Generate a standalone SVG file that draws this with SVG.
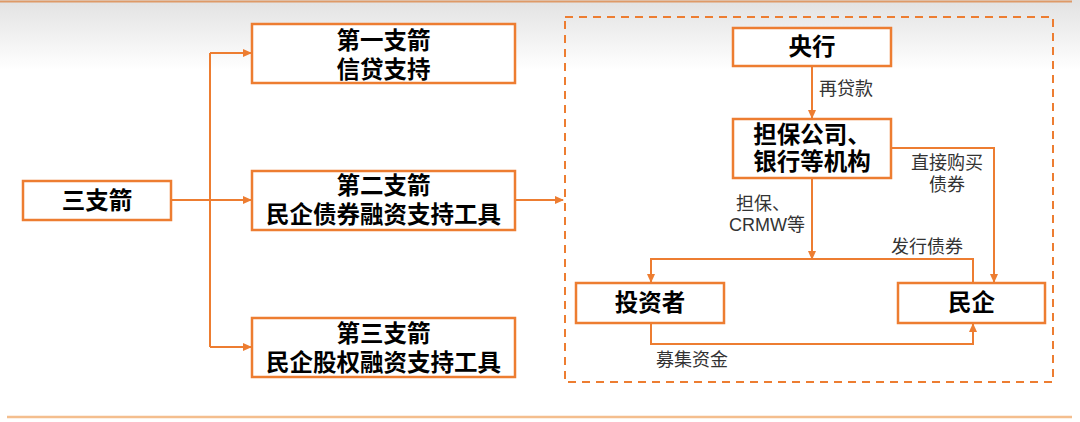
<svg xmlns="http://www.w3.org/2000/svg" width="1080" height="422" viewBox="0 0 1080 422">
<defs>
<linearGradient id="bg" x1="0" y1="0" x2="0" y2="1">
<stop offset="0" stop-color="#e2e2e2"/>
<stop offset="1" stop-color="#ffffff"/>
</linearGradient>
<marker id="ah" markerWidth="9" markerHeight="8" refX="8" refY="4" orient="auto" markerUnits="userSpaceOnUse">
<path d="M0,0 L9,4 L0,8 Z" fill="#ED7D31"/>
</marker>
<style>
.box{fill:#ffffff;stroke:#ED7D31;stroke-width:2.5}
.t{font-family:"Liberation Sans","Noto Sans CJK SC",sans-serif;font-size:23.5px;font-weight:bold;fill:#000;text-anchor:middle}
.l{font-family:"Liberation Sans","Noto Sans CJK SC",sans-serif;font-size:18px;fill:#333;text-anchor:middle}
.c{fill:none;stroke:#ED7D31;stroke-width:2}
.ca{fill:none;stroke:#ED7D31;stroke-width:2;marker-end:url(#ah)}
</style>
</defs>
<rect x="0" y="0" width="1080" height="422" fill="#ffffff"/>
<rect x="0" y="0" width="1080" height="70" fill="url(#bg)"/>
<line x1="0" y1="1.5" x2="1072" y2="1.5" stroke="#DE9A68" stroke-width="2"/>
<line x1="7" y1="417" x2="1072" y2="417" stroke="#F4BE8E" stroke-width="2.5"/>
<rect x="565" y="17" width="488" height="365" fill="none" stroke="#ED7D31" stroke-width="2" stroke-dasharray="8,6"/>
<g id="connectors">
<path class="c" d="M171,200 H210"/>
<path class="c" d="M210,53 V347"/>
<path class="ca" d="M210,53 H251"/>
<path class="ca" d="M210,200 H251"/>
<path class="ca" d="M210,347 H251"/>
<path class="ca" d="M515,200 H563"/>
<path class="ca" d="M812,66 V118"/>
<path class="ca" d="M812,178 V259"/>
<path class="ca" d="M891,148 H994 V282"/>
<path class="ca" d="M973,283 V259 H651 V282"/>
<path class="ca" d="M651,323 V344 H973 V324"/>
</g>
<g id="n-root"><rect class="box" x="23" y="181" width="148" height="39"/><text class="t" x="97" y="209">三支箭</text></g>
<g id="n-a1"><rect class="box" x="252" y="24" width="263" height="59"/><text class="t" x="383.5" y="49">第一支箭</text><text class="t" x="383.5" y="78">信贷支持</text></g>
<g id="n-a2"><rect class="box" x="252" y="171" width="263" height="59"/><text class="t" x="383.5" y="194">第二支箭</text><text class="t" x="383.5" y="223">民企债券融资支持工具</text></g>
<g id="n-a3"><rect class="box" x="252" y="318" width="263" height="59"/><text class="t" x="383.5" y="342">第三支箭</text><text class="t" x="383.5" y="371">民企股权融资支持工具</text></g>
<g id="n-cb"><rect class="box" x="733" y="28" width="158" height="38"/><text class="t" x="812" y="55">央行</text></g>
<g id="n-gu"><rect class="box" x="733" y="119" width="158" height="59"/><text class="t" x="812" y="143">担保公司、</text><text class="t" x="812" y="170">银行等机构</text></g>
<g id="n-inv"><rect class="box" x="576" y="283" width="148" height="40"/><text class="t" x="650" y="311">投资者</text></g>
<g id="n-pe"><rect class="box" x="898" y="283" width="147" height="40"/><text class="t" x="971.5" y="311">民企</text></g>
<g id="labels">
<text class="l" x="846" y="95">再贷款</text>
<text class="l" x="947" y="169">直接购买</text>
<text class="l" x="947" y="191">债券</text>
<text class="l" x="763" y="210">担保、</text>
<text class="l" x="767" y="231">CRMW等</text>
<text class="l" x="927" y="253">发行债券</text>
<text class="l" x="692" y="366">募集资金</text>
</g>
</svg>
